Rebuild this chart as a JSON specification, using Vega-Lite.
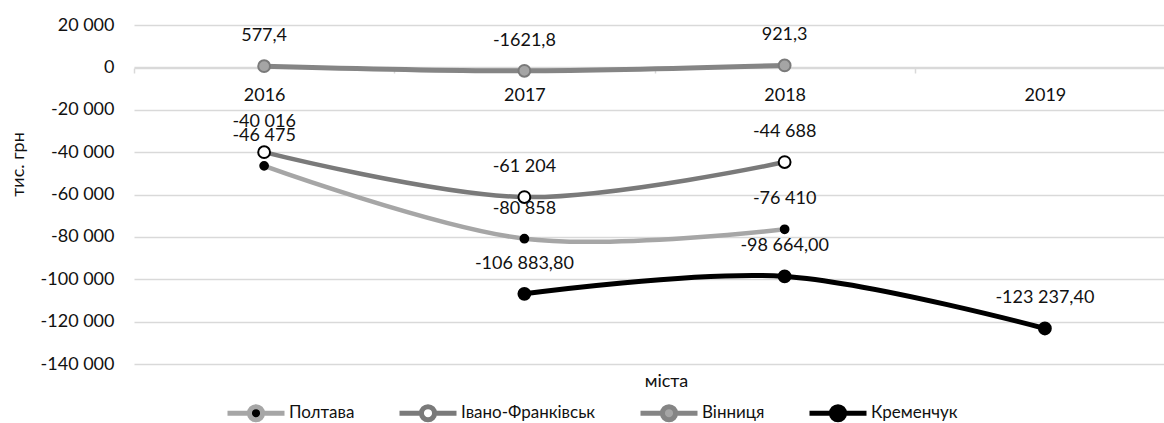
{
  "$schema": "https://vega.github.io/schema/vega-lite/v6.json",
  "autosize": "none",
  "width": 1041,
  "height": 339,
  "padding": {"left": 134, "top": 25, "right": 0, "bottom": 59},
  "background": "white",
  "data": {
    "values": [
      {"series": "Полтава", "year": "2016", "value": -46475, "label": "-46 475"},
      {"series": "Полтава", "year": "2017", "value": -80858, "label": "-80 858"},
      {"series": "Полтава", "year": "2018", "value": -76410, "label": "-76 410"},
      {"series": "Івано-Франківськ", "year": "2016", "value": -40016, "label": "-40 016"},
      {"series": "Івано-Франківськ", "year": "2017", "value": -61204, "label": "-61 204"},
      {"series": "Івано-Франківськ", "year": "2018", "value": -44688, "label": "-44 688"},
      {"series": "Вінниця", "year": "2016", "value": 577.4, "label": "577,4"},
      {"series": "Вінниця", "year": "2017", "value": -1621.8, "label": "-1621,8"},
      {"series": "Вінниця", "year": "2018", "value": 921.3, "label": "921,3"},
      {"series": "Кременчук", "year": "2017", "value": -106883.8, "label": "-106 883,80"},
      {"series": "Кременчук", "year": "2018", "value": -98664, "label": "-98 664,00"},
      {"series": "Кременчук", "year": "2019", "value": -123237.4, "label": "-123 237,40"}
    ]
  },
  "encoding": {
    "x": {
      "field": "year", "type": "ordinal",
      "scale": {"type": "band", "domain": ["2016", "2017", "2018", "2019"], "paddingInner": 0, "paddingOuter": 0},
      "axis": {
        "title": "міста", "labelAngle": 0, "offset": -296, "grid": false,
        "domainColor": "#d9d9d9", "domainWidth": 1.5, "tickColor": "#d9d9d9", "tickWidth": 1.5, "tickSize": 5,
        "tickBand": "extent", "labelPadding": 13, "labelFontSize": 18, "labelColor": "#111111",
        "titleFontSize": 18, "titleFontWeight": "normal", "titleColor": "#111111",
        "titleY": 313, "titleX": 532, "titleBaseline": "middle", "titleAnchor": null
      }
    },
    "y": {
      "field": "value", "type": "quantitative",
      "scale": {"domain": [-140000, 20000], "nice": false, "zero": false},
      "axis": {
        "title": "тис. грн", "values": [-140000, -120000, -100000, -80000, -60000, -40000, -20000, 0, 20000],
        "format": ",d", "domain": false, "ticks": false, "labelPadding": 20,
        "gridColor": "#d9d9d9", "gridWidth": 1.5,
        "labelFontSize": 18, "labelColor": "#111111",
        "titleFontSize": 18, "titleFontWeight": "normal", "titleColor": "#111111",
        "titleX": -116, "titleY": 139, "titleBaseline": "middle", "titleAngle": -90, "titleAlign": "center"
      }
    }
  },
  "layer": [
    {
      "mark": {"type": "line", "interpolate": "cardinal"},
      "encoding": {
        "color": {
          "field": "series", "type": "nominal",
          "scale": {"domain": ["Полтава", "Івано-Франківськ", "Вінниця", "Кременчук"], "range": ["#a6a6a6", "#7a7a7a", "#858585", "#000000"]},
          "legend": {
            "title": null, "orient": "none", "legendX": 91, "legendY": 357, "direction": "horizontal",
            "symbolType": "M-1,0H-0.23M0.23,0H1M0.23,0A0.23,0.23,0,1,1,-0.23,0A0.23,0.23,0,1,1,0.23,0Z",
            "symbolSize": 3249, "symbolStrokeWidth": 5, "labelFontSize": 17, "labelColor": "#111111",
            "columnPadding": 34, "labelOffset": 2
          }
        },
        "strokeWidth": {"condition": {"test": "datum.series === 'Вінниця' || datum.series === 'Кременчук'", "value": 5}, "value": 4.5}
      }
    },
    {
      "mark": {"type": "point", "filled": true, "opacity": 1},
      "encoding": {
        "fill": {
          "field": "series", "type": "nominal",
          "scale": {"domain": ["Полтава", "Івано-Франківськ", "Вінниця", "Кременчук"], "range": ["#000000", "#ffffff", "#a5a5a5", "#000000"]},
          "legend": {
            "title": null, "orient": "none", "legendX": 91, "legendY": 357, "direction": "horizontal",
            "symbolType": "M-1,0H-0.23M0.23,0H1M0.23,0A0.23,0.23,0,1,1,-0.23,0A0.23,0.23,0,1,1,0.23,0Z",
            "symbolSize": 3249, "symbolStrokeWidth": 5, "labelFontSize": 17, "labelColor": "#111111",
            "columnPadding": 34, "labelOffset": 2
          }
        },
        "stroke": {"condition": {"test": "datum.series === 'Вінниця'", "value": "#7a7a7a"}, "value": "#000000"},
        "strokeWidth": {"value": 2},
        "size": {"condition": {"test": "datum.series === 'Полтава'", "value": 60}, "value": 140}
      }
    },
    {
      "mark": {"type": "text", "dy": -30, "baseline": "middle", "fontSize": 18, "color": "#111111"},
      "encoding": {"text": {"field": "label"}}
    }
  ],
  "config": {
    "font": "Lato",
    "view": {"stroke": null},
    "locale": {"number": {"decimal": ",", "thousands": " ", "grouping": [3], "currency": ["", ""], "minus": "-"}}
  }
}
